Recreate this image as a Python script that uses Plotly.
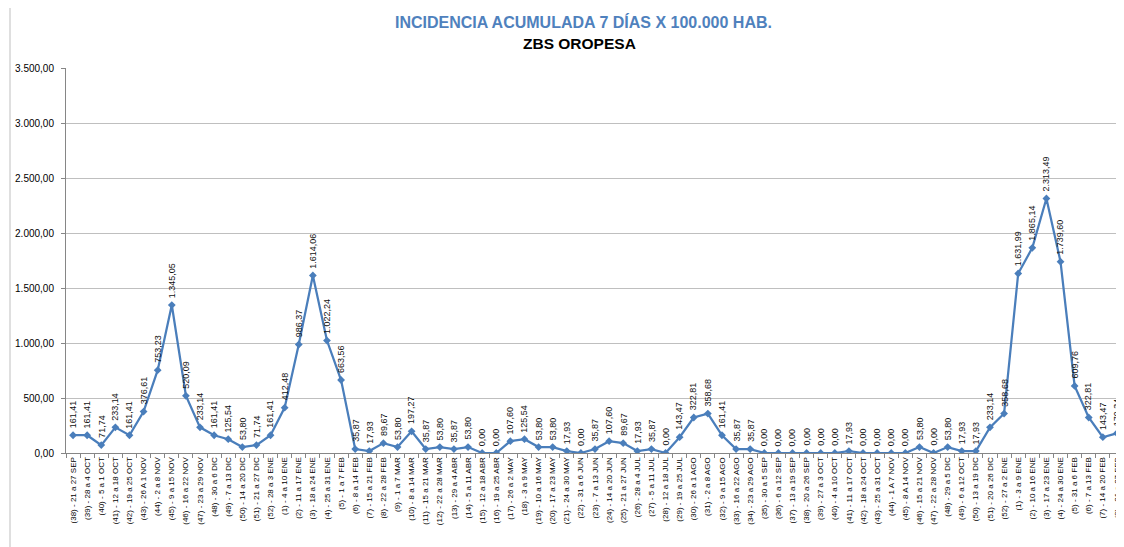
import plotly.graph_objects as go

weeks = [
    "(38) - 21 a 27 SEP", "(39) - 28 a 4 OCT", "(40) - 5 a 1 OCT", "(41) - 12 a 18 OCT",
    "(42) - 19 a 25 OCT", "(43) - 26 A 1 NOV", "(44) - 2 a 8 NOV", "(45) - 9 a 15 NOV",
    "(46) - 16 a 22 NOV", "(47) - 23 a 29 NOV", "(48) - 30 a 6 DIC", "(49) - 7 a 13 DIC",
    "(50) - 14 a 20 DIC", "(51) - 21 a 27 DIC", "(52) - 28 a 3 ENE", "(1) - 4 a 10 ENE",
    "(2) - 11 a 17 ENE", "(3) - 18 a 24 ENE", "(4) - 25 a 31 ENE", "(5) - 1 a 7 FEB",
    "(6) - 8 a 14 FEB", "(7) - 15 a 21 FEB", "(8) - 22 a 28 FEB", "(9) - 1 a 7 MAR",
    "(10) - 8 a 14 MAR", "(11) - 15 a 21 MAR", "(12) - 22 a 28 MAR", "(13) - 29 a 4 ABR",
    "(14) - 5 a 11 ABR", "(15) - 12 a 18 ABR", "(16) - 19 a 25 ABR", "(17) - 26 a 2 MAY",
    "(18) - 3 a 9 MAY", "(19) - 10 a 16 MAY", "(20) - 17 a 23 MAY", "(21) - 24 a 30 MAY",
    "(22) - 31 a 6 JUN", "(23) - 7 a 13 JUN", "(24) - 14 a 20 JUN", "(25) - 21 a 27 JUN",
    "(26) - 28 a 4 JUL", "(27) - 5 a 11 JUL", "(28) - 12 a 18 JUL", "(29) - 19 a 25 JUL",
    "(30) - 26 a 1 AGO", "(31) - 2 a 8 AGO", "(32) - 9 a 15 AGO", "(33) - 16 a 22 AGO",
    "(34) - 23 a 29 AGO", "(35) - 30 a 5 SEP", "(36) - 6 a 12 SEP", "(37) - 13 a 19 SEP",
    "(38) - 20 a 26 SEP", "(39) - 27 a 3 OCT", "(40) - 4 a 10 OCT", "(41) - 11 a 17 OCT",
    "(42) - 18 a 24 OCT", "(43) - 25 a 31 OCT", "(44) - 1 A 7 NOV", "(45) - 8 A 14 NOV",
    "(46) - 15 a 21 NOV", "(47) - 22 a 28 NOV", "(48) - 29 a 5 DIC", "(49) - 6 a 12 OCT",
    "(50) - 13 a 19 DIC", "(51) - 20 a 26 DIC", "(52) - 27 a 2 ENE", "(1) - 3 a 9 ENE",
    "(2) - 10 a 16 ENE", "(3) - 17 a 23 ENE", "(4) - 24 a 30 ENE", "(5) - 31 a 6 FEB",
    "(6) - 7 a 13 FEB", "(7) - 14 a 20 FEB", "(8) - 21 a 27 FEB",
]

incidence = [
    161.41, 161.41, 71.74, 233.14, 161.41, 376.61, 753.23, 1345.05,
    520.09, 233.14, 161.41, 125.54, 53.80, 71.74, 161.41, 412.48,
    986.37, 1614.06, 1022.24, 663.56, 35.87, 17.93, 89.67, 53.80,
    197.27, 35.87, 53.80, 35.87, 53.80, 0.00, 0.00, 107.60,
    125.54, 53.80, 53.80, 17.93, 0.00, 35.87, 107.60, 89.67,
    17.93, 35.87, 0.00, 143.47, 322.81, 358.68, 161.41, 35.87,
    35.87, 0.00, 0.00, 0.00, 0.00, 0.00, 0.00, 17.93,
    0.00, 0.00, 0.00, 0.00, 53.80, 0.00, 53.80, 17.93,
    17.93, 233.14, 358.68, 1631.99, 1865.14, 2313.49, 1739.60, 609.76,
    322.81, 143.47, 179.34,
]

title_text = "INCIDENCIA ACUMULADA 7 DÍAS X 100.000 HAB."
subtitle_text = "ZBS OROPESA"

LINE = "#4A7EBB"
FONT = "Liberation Sans"

# the page body adds an 8px offset; the figure is sized so it fits the window
W, H = 1116, 539
ML, MR, MT, MB = 58, 0, 60, 94
PW = W - ML - MR
PH = H - MT - MB


def es_fmt(v):
    s = f"{v:,.2f}"
    return s.replace(",", "#").replace(".", ",").replace("#", ".")


fig = go.Figure()
fig.add_trace(go.Scatter(
    x=weeks, y=incidence, mode="lines+markers",
    line=dict(color=LINE, width=2.25),
    marker=dict(symbol="diamond", size=6, color=LINE),
    hoverinfo="x+y", showlegend=False,
))

annotations = []
for w, v in zip(weeks, incidence):
    annotations.append(dict(
        x=w, y=v, xref="x", yref="y", text=es_fmt(v), showarrow=False,
        textangle=-90, xanchor="center", yanchor="bottom", yshift=5,
        font=dict(family=FONT, size=9, color="#111111"),
    ))

# title rows (screen y ~22 and ~44, with plot top at screen 68, left at 66)
annotations.append(dict(
    x=(583 - 66) / PW, y=1 + (68 - 22) / PH, xref="paper", yref="paper", text=f"<b>{title_text}</b>",
    showarrow=False, xanchor="center", yanchor="middle",
    font=dict(family=FONT, size=16, color="#4F81BD"),
))
annotations.append(dict(
    x=(579 - 66) / PW, y=1 + (68 - 44) / PH, xref="paper", yref="paper", text=f"<b>{subtitle_text}</b>",
    showarrow=False, xanchor="center", yanchor="middle",
    font=dict(family=FONT, size=15.5, color="#000000"),
))

fig.update_layout(
    width=W, height=H,
    margin=dict(l=ML, r=MR, t=MT, b=MB),
    paper_bgcolor="white", plot_bgcolor="white",
    separators=",.",
    annotations=annotations,
    shapes=[dict(
        type="rect", xref="paper", yref="paper",
        x0=(10 - 66) / PW, x1=1.05, y0=-0.4, y1=1 + (68 - 5) / PH,
        line=dict(color="#BFBFBF", width=1), fillcolor="rgba(0,0,0,0)", layer="below",
    )],
    font=dict(family=FONT, size=9, color="#000000"),
)

fig.update_xaxes(
    type="category", tickangle=-90, tickfont=dict(family=FONT, size=8, color="#000000"),
    showgrid=False, showline=True, linecolor="#868686", linewidth=1,
    ticks="outside", ticklen=4, tickcolor="#868686", tickson="boundaries",
    range=[-0.5, len(weeks) - 0.5], automargin=False,
)
fig.update_yaxes(
    range=[0, 3500], dtick=500, tickformat=",.2f",
    tickfont=dict(family=FONT, size=10, color="#000000"),
    showgrid=True, gridcolor="#BFBFBF", gridwidth=1,
    showline=True, linecolor="#868686", linewidth=1,
    ticks="outside", ticklen=4, tickcolor="#868686", ticklabelstandoff=5,
    zeroline=False, automargin=False,
)

fig.write_html("out.html")
